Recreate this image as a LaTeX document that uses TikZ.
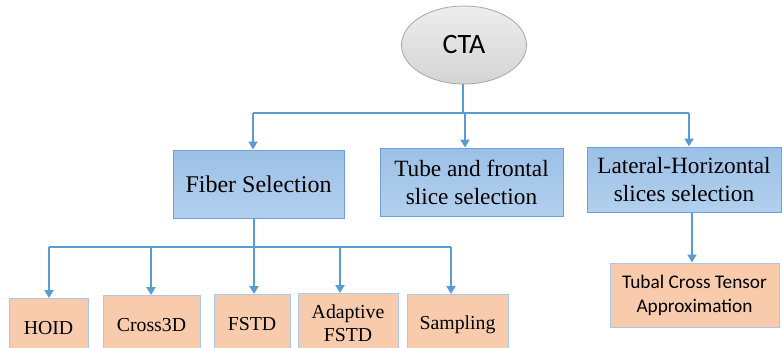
\documentclass[tikz,border=0pt]{standalone}
\usepackage{fontspec}
\setmainfont{Liberation Serif}
\newfontfamily\calib{Carlito}
\usetikzlibrary{arrows.meta,shapes.geometric}
\definecolor{arrowc}{HTML}{5B9BD5}
\definecolor{bluetop}{HTML}{9CC0E6}
\definecolor{bluebot}{HTML}{B2D0EE}
\definecolor{blueedge}{HTML}{6FA0D8}
\definecolor{orfill}{HTML}{F8CBAD}
\definecolor{oredge}{HTML}{A9C8EA}
\definecolor{ctaedge}{HTML}{A6A6A6}
\tikzset{
  conn/.style={draw=arrowc, line width=2.2pt},
  arr/.style={conn, -{Triangle[length=8pt,width=9pt]}},
  bluebox/.style={draw=blueedge, line width=1pt, top color=bluetop, bottom color=bluebot, align=center, inner sep=0pt, font=\fontsize{23.3}{28}\selectfont},
  orbox/.style={draw=oredge, line width=1pt, fill=orfill, align=center, inner sep=0pt, font=\fontsize{19.8}{23}\selectfont},
  ctanode/.style={ellipse, draw=ctaedge, line width=0.8pt, top color=gray!14, bottom color=gray!34, inner sep=0pt, font=\calib\fontsize{28}{30}\selectfont},
}
\begin{document}
\begin{tikzpicture}[x=1pt,y=-1pt]
\useasboundingbox (0,0) rectangle (782,348);
\clip (0,0) rectangle (782,348);
% top
\node[ctanode, minimum width=125pt, minimum height=78pt] (cta) at (464,45) {CTA};
\node[bluebox, minimum width=171pt, minimum height=68pt, font=\fontsize{24}{28}\selectfont] (fiber) at (258.5,184) {Fiber Selection};
\node[bluebox, minimum width=183pt, minimum height=68pt] (tube) at (471.5,182) {Tube and frontal\\slice selection};
\node[bluebox, minimum width=194pt, minimum height=65pt] (lat) at (684,179.5) {Lateral-Horizontal\\slices selection};
\node[orbox, minimum width=169pt, minimum height=64pt, font=\calib\fontsize{19.3}{24}\selectfont] (tubal) at (694.5,295) {Tubal Cross Tensor\\Approximation};
% bottom boxes (extend below the edge)
\node[orbox, minimum width=79pt, minimum height=60pt, anchor=north] (hoid) at (48.5,298) {HOID};
\node[orbox, minimum width=97pt, minimum height=60pt, anchor=north] (cross) at (151.5,295) {Cross3D};
\node[orbox, minimum width=76pt, minimum height=60pt, anchor=north] (fstd) at (252,294) {FSTD};
\node[orbox, minimum width=100pt, minimum height=60pt, anchor=north] (afstd) at (348,293) {Adaptive\\FSTD};
\node[orbox, minimum width=101pt, minimum height=60pt, anchor=north] (samp) at (457.5,294) {Sampling};
% connectors from CTA
\coordinate (j0) at (463,113);
\draw[conn] (cta.south -| j0) -- (j0);
\draw[conn] (j0) -- (253,113) coordinate (jl);
\draw[conn] (j0) -- (689,113) coordinate (jr);
\draw[arr] (jl) -- (jl |- fiber.north);
\draw[arr] (465,113) coordinate (jm) -- (jm |- tube.north);
\draw[arr] (jr) -- (jr |- lat.north);
% lateral to tubal
\coordinate (lt) at (692,212);
\draw[arr] (lt) -- (lt |- tubal.north);
% fiber to bottom
\coordinate (f0) at (254,247);
\draw[conn] (254,218) -- (f0);
\coordinate (b1) at (49,247);
\coordinate (b2) at (151,247);
\coordinate (b3) at (254,247);
\coordinate (b4) at (340,247);
\coordinate (b5) at (451,247);
\draw[conn] (b1) -- (b5);
\draw[arr] (b1) -- (b1 |- hoid.north);
\draw[arr] (b2) -- (b2 |- cross.north);
\draw[arr] (b3) -- (b3 |- fstd.north);
\draw[arr] (b4) -- (b4 |- afstd.north);
\draw[arr] (b5) -- (b5 |- samp.north);
\end{tikzpicture}
\end{document}
